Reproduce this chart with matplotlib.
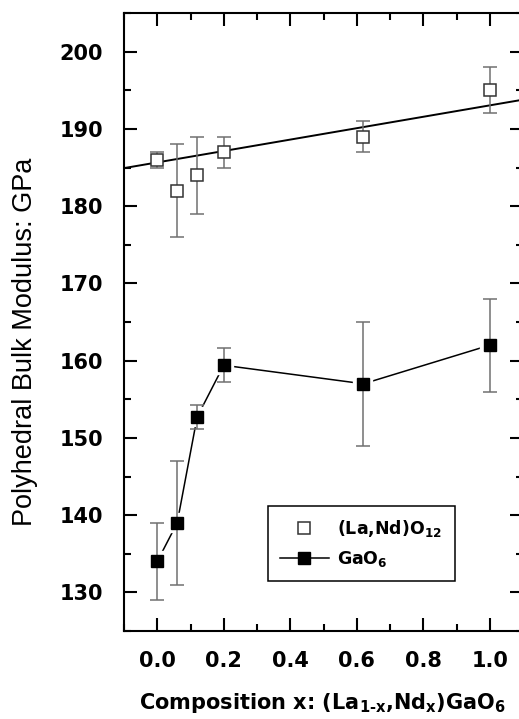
import numpy as np
import matplotlib
matplotlib.use("Agg")
import matplotlib.pyplot as plt
from matplotlib.lines import Line2D
from matplotlib.ticker import MultipleLocator

plt.rcParams['font.family'] = ['DejaVu Sans']
plt.rcParams['mathtext.fontset'] = 'custom'
plt.rcParams['mathtext.bf'] = 'DejaVu Sans:bold'
plt.rcParams['mathtext.rm'] = 'DejaVu Sans:bold'
plt.rcParams['mathtext.default'] = 'bf'

# DATA
# ==========================================
composition = [0.0, 0.06, 0.12, 0.2, 0.62, 1.0]

lanD_modulus = [186, 182, 184, 187, 189, 195]
lanD_err = [1, 6, 5, 2, 2, 3]

gao_modulus = [134.0, 139.0, 152.7, 159.4, 157.0, 162.0]
gao_err_low = [5.0, 8.0, 1.6, 2.2, 8.0, 6.0]
gao_err_high = [5.0, 8.0, 1.6, 2.2, 8.0, 6.0]

x_ticks = [0.0, 0.2, 0.4, 0.6, 0.8, 1.0]
y_ticks = [130, 140, 150, 160, 170, 180, 190, 200]

# FIGURE
# ==========================================
W, H = 519, 719
fig = plt.figure(figsize=(W / 100, H / 100), dpi=100)
ax = fig.add_axes([124 / W, 88 / H, 399 / W, 618 / H])

ax.set_xlim(-0.1, 1.1)
ax.set_ylim(125, 205)

# weighted linear fit of the (La,Nd)O12 values
coef = np.polyfit(composition, lanD_modulus, 1, w=1 / np.array(lanD_err, dtype=float))
fit_x = np.array(ax.get_xlim())
ax.plot(fit_x, np.polyval(coef, fit_x), color='black', lw=1.4, zorder=2)

ax.errorbar(composition, lanD_modulus, yerr=lanD_err, fmt='s', ms=9,
            mfc='white', mec='#333333', mew=1.1, ecolor='#707070',
            elinewidth=1.1, capsize=5, capthick=1.1, zorder=3)

# GaO6 series: line with small gaps around the markers
ax.plot(composition, gao_modulus, '-', color='black', lw=1.1, zorder=1)
ax.plot(composition, gao_modulus, 's', ms=9, mfc='white', mec='white', mew=6, zorder=1.5)
ax.errorbar(composition, gao_modulus, yerr=[gao_err_low, gao_err_high], fmt='none',
            ecolor='#707070', elinewidth=1.1, capsize=5, capthick=1.1, zorder=3)
ax.plot(composition, gao_modulus, 's', ms=9, color='black', zorder=4)

# AXES STYLE
# ==========================================
for sp in ax.spines.values():
    sp.set_linewidth(1.5)

ax.set_xticks(x_ticks)
ax.set_yticks(y_ticks)
ax.xaxis.set_minor_locator(MultipleLocator(0.1))
ax.yaxis.set_minor_locator(MultipleLocator(5))
ax.tick_params(which='both', direction='in', top=True, right=True, width=1.5)
ax.tick_params(which='major', length=9.5)
ax.tick_params(which='minor', length=5)
ax.tick_params(axis='x', which='major', pad=14.5)
ax.tick_params(axis='y', which='major', pad=15)
ax.set_xticklabels([f'{v:.1f}' for v in x_ticks], fontsize=15, fontweight='bold')
ax.set_yticklabels([str(v) for v in y_ticks], fontsize=15, fontweight='bold')

fig.text(323 / W, 1 - 709 / H, r'Composition x: (La$_{1\text{-}x}$,Nd$_x$)GaO$_6$',
         ha='center', va='baseline', fontsize=15, fontweight='bold')
fig.text(25 / W, 1 - 342 / H, 'Polyhedral Bulk Modulus: GPa', rotation=90,
         ha='center', va='center', fontsize=19.5, family=['Liberation Sans'])

handles = [
    Line2D([], [], ls='none', marker='s', ms=9, mfc='white', mec='#333333', mew=1.1),
    Line2D([], [], color='black', lw=1.1, marker='s', ms=9, mfc='black', mec='black'),
]
labels = [r'(La,Nd)O$_{12}$', r'GaO$_6$']
leg = ax.legend(handles, labels, loc='lower left',
                bbox_to_anchor=((268 - 124) / 399, (631 - 581) / 618),
                borderaxespad=0, fancybox=False, framealpha=1, edgecolor='black',
                handlelength=2.8, handletextpad=0.5, borderpad=0.7,
                labelspacing=0.55, prop={'size': 12.5, 'weight': 'bold'})
leg.get_frame().set_linewidth(1.1)

fig.savefig('out.png', dpi=100)
